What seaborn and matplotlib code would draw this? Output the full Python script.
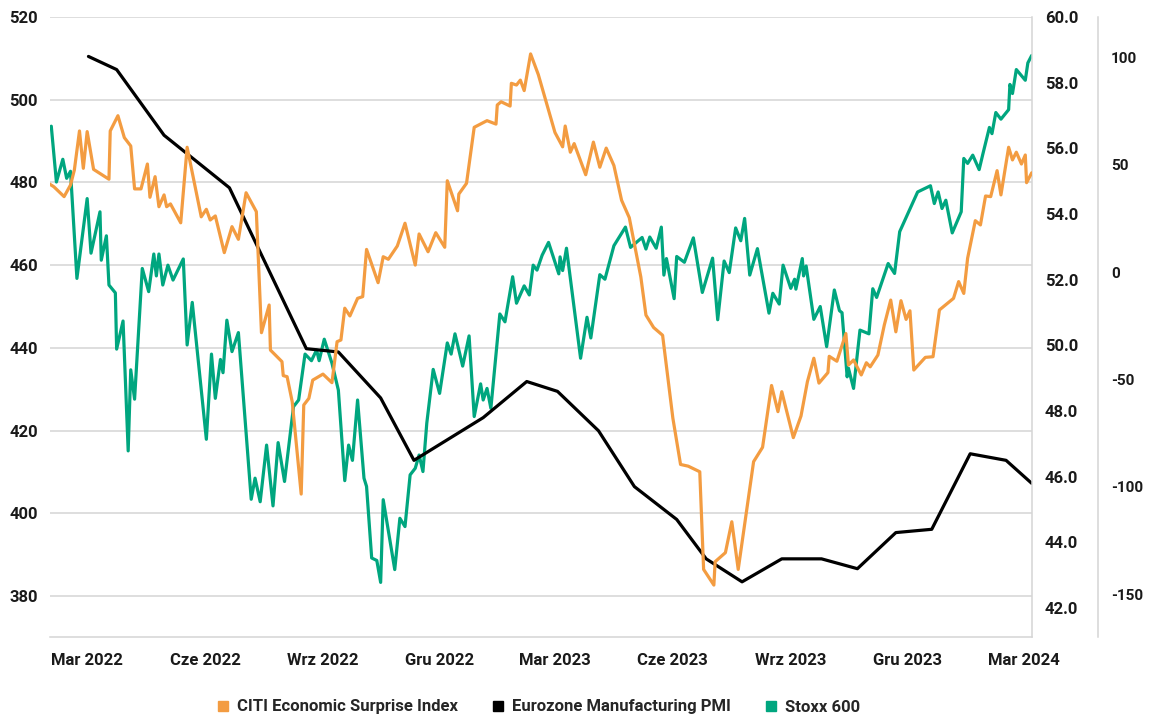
import pandas as pd
import numpy as np
import matplotlib
matplotlib.use("Agg")
import matplotlib.pyplot as plt
from matplotlib.lines import Line2D
import seaborn as sns

# 1. Data

# Stoxx 600 (left axis)
stoxx_dates = [
    "2022-02-01", "2022-02-05", "2022-02-10", "2022-02-13", "2022-02-16", "2022-02-21",
    "2022-03-01", "2022-03-04", "2022-03-11", "2022-03-12", "2022-03-16", "2022-03-18",
    "2022-03-23", "2022-03-24", "2022-03-29", "2022-04-02", "2022-04-04", "2022-04-07",
    "2022-04-13", "2022-04-18", "2022-04-22", "2022-04-24", "2022-04-26", "2022-04-29",
    "2022-05-03", "2022-05-07", "2022-05-15", "2022-05-18", "2022-05-22", "2022-06-02",
    "2022-06-06", "2022-06-09", "2022-06-13", "2022-06-15", "2022-06-18", "2022-06-22",
    "2022-06-27", "2022-07-07", "2022-07-10", "2022-07-14", "2022-07-19", "2022-07-24",
    "2022-07-28", "2022-08-02", "2022-08-09", "2022-08-13", "2022-08-18", "2022-08-23",
    "2022-08-27", "2022-08-29", "2022-09-02", "2022-09-08", "2022-09-13", "2022-09-18",
    "2022-09-21", "2022-09-24", "2022-09-28", "2022-10-03", "2022-10-05", "2022-10-09",
    "2022-10-13", "2022-10-16", "2022-10-18", "2022-10-27", "2022-10-31", "2022-11-04",
    "2022-11-08", "2022-11-12", "2022-11-15", "2022-11-18", "2022-11-21", "2022-11-26",
    "2022-12-01", "2022-12-07", "2022-12-10", "2022-12-13", "2022-12-19", "2022-12-24",
    "2022-12-28", "2023-01-02", "2023-01-04", "2023-01-07", "2023-01-10", "2023-01-17",
    "2023-01-21", "2023-01-27", "2023-01-30", "2023-02-05", "2023-02-09", "2023-02-12",
    "2023-02-15", "2023-02-19", "2023-02-24", "2023-03-04", "2023-03-05", "2023-03-07",
    "2023-03-10", "2023-03-21", "2023-03-26", "2023-03-29", "2023-04-05", "2023-04-09",
    "2023-04-16", "2023-04-25", "2023-04-29", "2023-05-08", "2023-05-11", "2023-05-14",
    "2023-05-19", "2023-05-23", "2023-05-25", "2023-05-27", "2023-06-02", "2023-06-04",
    "2023-06-10", "2023-06-17", "2023-06-24", "2023-07-02", "2023-07-06", "2023-07-11",
    "2023-07-15", "2023-07-20", "2023-07-24", "2023-07-27", "2023-07-31", "2023-08-06",
    "2023-08-15", "2023-08-18", "2023-08-23", "2023-08-26", "2023-09-01", "2023-09-04",
    "2023-09-05", "2023-09-10", "2023-09-11", "2023-09-13", "2023-09-19", "2023-09-24",
    "2023-09-29", "2023-10-05", "2023-10-09", "2023-10-11", "2023-10-15", "2023-10-16",
    "2023-10-20", "2023-10-25", "2023-11-01", "2023-11-04", "2023-11-07", "2023-11-16",
    "2023-11-21", "2023-11-25", "2023-12-09", "2023-12-19", "2023-12-22", "2023-12-25",
    "2023-12-28", "2023-12-31", "2024-01-05", "2024-01-12", "2024-01-14", "2024-01-17",
    "2024-01-21", "2024-01-26", "2024-01-29", "2024-02-03", "2024-02-05", "2024-02-08",
    "2024-02-12", "2024-02-18", "2024-02-19", "2024-02-21", "2024-02-24", "2024-03-02",
    "2024-03-04", "2024-03-07",
]
stoxx_values = [
    493.6, 480.1, 485.6, 481.0, 482.7, 456.8,
    476.1, 462.9, 472.9, 461.2, 467.1, 455.2,
    453.3, 439.7, 446.5, 415.1, 434.7, 427.6,
    459.2, 453.6, 462.7, 457.4, 462.7, 455.2,
    460.0, 456.4, 461.5, 440.7, 451.0, 417.9,
    438.5, 427.8, 437.2, 434.0, 446.7, 439.1,
    443.7, 403.4, 408.5, 402.8, 416.5, 401.8,
    417.1, 407.7, 425.8, 427.4, 438.5, 436.9,
    439.5, 436.9, 442.1, 436.3, 429.8, 407.9,
    416.5, 412.8, 427.4, 408.5, 406.5, 389.2,
    388.6, 383.3, 403.3, 386.4, 398.8, 396.8,
    409.3, 410.9, 414.1, 410.1, 421.8, 434.8,
    429.0, 441.2, 438.5, 443.4, 435.6, 442.9,
    423.4, 431.3, 427.4, 430.2, 425.4, 448.2,
    446.3, 457.2, 450.8, 455.0, 452.8, 460.0,
    458.8, 462.4, 465.5, 457.9, 462.0, 458.7,
    464.1, 437.5, 447.4, 442.4, 457.7, 456.6,
    464.7, 469.2, 464.3, 466.7, 463.9, 466.8,
    464.1, 469.2, 457.6, 461.6, 451.9, 462.1,
    460.7, 466.6, 453.4, 461.7, 446.8, 461.0,
    458.2, 469.0, 465.9, 471.3, 457.6, 464.0,
    448.4, 453.2, 450.6, 460.0, 454.4, 456.6,
    454.2, 461.6, 457.4, 459.8, 446.9, 450.0,
    440.3, 454.0, 449.0, 448.5, 433.0, 435.1,
    430.2, 444.3, 443.4, 454.3, 452.2, 460.4,
    458.0, 468.1, 477.7, 479.2, 474.9, 477.7,
    473.7, 475.7, 467.8, 472.9, 485.8, 484.6,
    486.6, 483.1, 487.0, 493.3, 491.8, 496.9,
    495.3, 497.6, 503.7, 501.5, 507.3, 504.7,
    508.9, 510.7,
]

# CITI Economic Surprise Index (outer right axis)
citi_dates = [
    "2022-01-29", "2022-02-03", "2022-02-11", "2022-02-16", "2022-02-19", "2022-02-23",
    "2022-02-26", "2022-03-01", "2022-03-06", "2022-03-18", "2022-03-19", "2022-03-25",
    "2022-03-30", "2022-04-04", "2022-04-07", "2022-04-12", "2022-04-17", "2022-04-19",
    "2022-04-23", "2022-04-26", "2022-04-30", "2022-05-02", "2022-05-05", "2022-05-13",
    "2022-05-18", "2022-05-29", "2022-06-02", "2022-06-05", "2022-06-09", "2022-06-16",
    "2022-06-22", "2022-06-27", "2022-07-03", "2022-07-11", "2022-07-15", "2022-07-21",
    "2022-07-22", "2022-07-31", "2022-08-01", "2022-08-04", "2022-08-08", "2022-08-15",
    "2022-08-17", "2022-08-21", "2022-08-24", "2022-09-01", "2022-09-08", "2022-09-12",
    "2022-09-15", "2022-09-18", "2022-09-22", "2022-09-28", "2022-10-02", "2022-10-05",
    "2022-10-14", "2022-10-18", "2022-10-22", "2022-10-29", "2022-11-04", "2022-11-12",
    "2022-11-15", "2022-11-22", "2022-11-28", "2022-12-05", "2022-12-07", "2022-12-15",
    "2022-12-16", "2022-12-22", "2022-12-28", "2023-01-07", "2023-01-14", "2023-01-15",
    "2023-01-18", "2023-01-25", "2023-01-26", "2023-01-30", "2023-02-02", "2023-02-05",
    "2023-02-10", "2023-02-16", "2023-03-01", "2023-03-07", "2023-03-09", "2023-03-13",
    "2023-03-16", "2023-03-25", "2023-03-31", "2023-04-05", "2023-04-10", "2023-04-16",
    "2023-04-22", "2023-04-28", "2023-05-07", "2023-05-11", "2023-05-17", "2023-05-24",
    "2023-06-01", "2023-06-07", "2023-06-13", "2023-06-22", "2023-06-25", "2023-07-03",
    "2023-07-04", "2023-07-12", "2023-07-17", "2023-07-22", "2023-08-03", "2023-08-10",
    "2023-08-17", "2023-08-22", "2023-08-25", "2023-09-03", "2023-09-09", "2023-09-14",
    "2023-09-19", "2023-09-23", "2023-09-30", "2023-10-01", "2023-10-07", "2023-10-14",
    "2023-10-16", "2023-10-20", "2023-10-26", "2023-10-30", "2023-11-02", "2023-11-08",
    "2023-11-13", "2023-11-18", "2023-11-22", "2023-11-26", "2023-11-30", "2023-12-03",
    "2023-12-06", "2023-12-15", "2023-12-21", "2023-12-26", "2024-01-06", "2024-01-10",
    "2024-01-14", "2024-01-17", "2024-01-23", "2024-01-27", "2024-01-31", "2024-02-04",
    "2024-02-09", "2024-02-12", "2024-02-18", "2024-02-21", "2024-02-24", "2024-02-28",
    "2024-03-02", "2024-03-03", "2024-03-07",
]
citi_values = [
    41.7, 39.8, 35.2, 40.6, 47.6, 65.8,
    48.4, 65.5, 47.9, 43.3, 65.8, 72.9,
    62.7, 58.8, 38.8, 38.8, 50.4, 34.9,
    44.5, 30.5, 36.0, 30.5, 31.8, 23.0,
    58.2, 25.8, 29.3, 24.3, 26.2, 9.1,
    21.2, 15.3, 37.0, 28.2, -28.2, -15.3,
    -36.3, -41.7, -48.2, -48.7, -60.4, -103.4,
    -61.9, -58.8, -50.3, -47.5, -51.5, -32.4,
    -31.6, -16.8, -20.4, -12.2, -11.4, 10.6,
    -4.9, 7.2, 6.0, 12.2, 22.8, 3.3,
    17.8, 9.5, 18.4, 11.6, 42.6, 28.6,
    36.4, 41.4, 67.5, 70.6, 69.0, 77.9,
    79.4, 77.4, 88.0, 87.2, 89.5, 84.6,
    101.7, 92.1, 65.1, 58.4, 68.1, 55.9,
    59.9, 45.4, 60.6, 48.9, 57.8, 49.7,
    33.5, 25.4, -2.2, -20.0, -25.8, -29.4,
    -68.0, -89.6, -90.4, -93.0, -138.5, -145.8,
    -134.9, -130.7, -116.3, -138.5, -88.3, -81.6,
    -52.8, -65.0, -55.7, -77.1, -67.0, -51.0,
    -40.1, -51.7, -46.8, -39.2, -41.5, -28.6,
    -43.3, -40.9, -47.9, -42.2, -44.1, -38.6,
    -24.6, -13.0, -27.8, -13.3, -22.0, -18.0,
    -45.6, -39.7, -39.4, -17.6, -12.2, -4.4,
    -9.9, 6.5, 24.0, 22.0, 35.5, 35.2,
    47.3, 36.0, 58.2, 52.3, 55.9, 50.4,
    54.6, 41.7, 46.3,
]

# Eurozone Manufacturing PMI (inner right axis)
pmi_dates = [
    "2022-03-02", "2022-03-24", "2022-04-30", "2022-06-20", "2022-08-19", "2022-09-13",
    "2022-10-16", "2022-11-11", "2023-01-04", "2023-02-07", "2023-03-03", "2023-04-04",
    "2023-05-02", "2023-06-04", "2023-06-27", "2023-07-25", "2023-08-25", "2023-09-25",
    "2023-10-23", "2023-11-22", "2023-12-20", "2024-01-19", "2024-02-16", "2024-03-07",
]
pmi_values = [
    58.8, 58.4, 56.4, 54.8, 49.9, 49.8,
    48.4, 46.5, 47.8, 48.9, 48.6, 47.4,
    45.7, 44.7, 43.5, 42.8, 43.5, 43.5,
    43.2, 44.3, 44.4, 46.7, 46.5, 45.8,
]

x_tick_dates = ["2022-03-01", "2022-06-01", "2022-09-01", "2022-12-01", "2023-03-01",
                "2023-06-01", "2023-09-01", "2023-12-01", "2024-03-01"]
x_tick_labels = ["Mar 2022", "Cze 2022", "Wrz 2022", "Gru 2022", "Mar 2023",
                 "Cze 2023", "Wrz 2023", "Gru 2023", "Mar 2024"]

series_names = ["CITI Economic Surprise Index", "Eurozone Manufacturing PMI", "Stoxx 600"]

ORANGE = "#F39C41"
BLACK = "#000000"
GREEN = "#00A67F"
GREY = "#D5D5D5"

# 2. Style
sns.set_theme(style="white")
plt.rcParams["font.family"] = ["Roboto", "DejaVu Sans"]
plt.rcParams["font.weight"] = "bold"
FS = 12

# 3. Figure and axes
fig = plt.figure(figsize=(11.51, 7.18), dpi=100)
ax = fig.add_axes([50 / 1151, 1 - 637 / 718, (1031.7 - 50) / 1151, 620 / 718])
ax_pmi = ax.twinx()
ax_citi = ax.twinx()

sns.lineplot(x=pd.to_datetime(stoxx_dates), y=stoxx_values, ax=ax,
             color=GREEN, linewidth=2.3, legend=False)
sns.lineplot(x=pd.to_datetime(citi_dates), y=citi_values, ax=ax_citi,
             color=ORANGE, linewidth=2.3, legend=False)
sns.lineplot(x=pd.to_datetime(pmi_dates), y=pmi_values, ax=ax_pmi,
             color=BLACK, linewidth=2.3, legend=False)

ax.set_xlim(pd.Timestamp("2022-01-31"), pd.Timestamp("2024-03-07"))
ax.set_xticks(pd.to_datetime(x_tick_dates))
ax.set_xticklabels(x_tick_labels, fontsize=FS, fontweight="bold")

# left axis: Stoxx 600
ax.set_ylim(370.1, 520)
ax.set_yticks(np.arange(380, 521, 20))
ax.set_yticklabels([f"{v:d}" for v in range(380, 521, 20)], fontsize=FS, fontweight="bold")
ax.grid(axis="y", color=GREY, linewidth=1.1)
ax.set_axisbelow(True)

# inner right axis: PMI
ax_pmi.set_ylim(41.12, 60.001)
ax_pmi.set_yticks(np.arange(42, 60.1, 2))
ax_pmi.set_yticklabels([f"{v:.1f}" for v in np.arange(42, 60.1, 2)], fontsize=FS, fontweight="bold")

# outer right axis: CITI
ax_citi.set_ylim(-170, 118.9)
ax_citi.set_yticks([-150, -100, -50, 0, 50, 100])
ax_citi.set_yticklabels(["-150", "-100", "-50", "0", "50", "100"], fontsize=FS, fontweight="bold")
ax_citi.spines["right"].set_position(("outward", 47.7))

for a in (ax, ax_pmi, ax_citi):
    a.set_xlabel("")
    a.set_ylabel("")
    for s in a.spines.values():
        s.set_visible(False)
    a.tick_params(length=0, colors="#1a1a1a")

ax.spines["bottom"].set_visible(True)
ax.spines["bottom"].set_color(GREY)
ax.spines["bottom"].set_linewidth(1.1)
ax_pmi.spines["right"].set_visible(True)
ax_pmi.spines["right"].set_color(GREY)
ax_pmi.spines["right"].set_linewidth(1.1)
ax_citi.spines["right"].set_visible(True)
ax_citi.spines["right"].set_color(GREY)
ax_citi.spines["right"].set_linewidth(1.1)

ax.tick_params(axis="y", pad=8.6)
ax.tick_params(axis="x", pad=11.5)
ax_pmi.tick_params(axis="y", pad=9.4)
ax_citi.tick_params(axis="y", pad=9.4)

# 4. Legend
handles = [Line2D([0], [0], marker="s", linestyle="none", markersize=7.5,
                  markerfacecolor=c, markeredgecolor=c) for c in (ORANGE, BLACK, GREEN)]
fig.legend(handles, series_names, loc="center", bbox_to_anchor=(538 / 1151, 1 - 707 / 718),
           ncol=3, frameon=False, handlelength=0.8, handletextpad=0.45, columnspacing=2.0,
           prop={"size": FS, "weight": "bold"})

fig.savefig("out.png", dpi=100)
